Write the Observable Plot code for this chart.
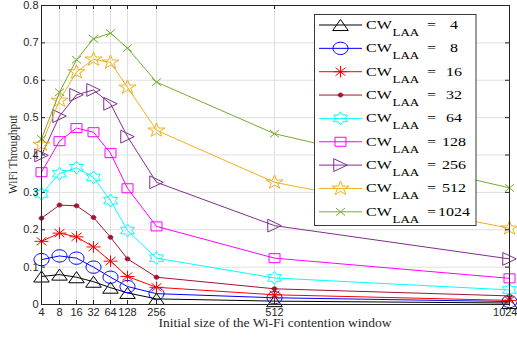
<!DOCTYPE html>
<html><head><meta charset="utf-8">
<script src="https://cdn.jsdelivr.net/npm/d3@7"></script>
<script src="https://cdn.jsdelivr.net/npm/@observablehq/plot@0.6"></script>
<style>html,body{margin:0;padding:0;background:#fff}#chart{width:517px;height:337px}</style>
</head><body><div id="chart"></div>
<script>
// ---- data ----
const cwWifi = [4, 8, 16, 32, 64, 128, 256, 512, 1024];
const cwLAA = [4, 8, 16, 32, 64, 128, 256, 512, 1024];
const thr_4    = [0.075, 0.080, 0.073, 0.061, 0.045, 0.031, 0.015, 0.009, 0.004];
const thr_8    = [0.120, 0.130, 0.124, 0.100, 0.073, 0.048, 0.029, 0.018, 0.008];
const thr_16   = [0.169, 0.191, 0.181, 0.154, 0.116, 0.075, 0.046, 0.026, 0.011];
const thr_32   = [0.231, 0.266, 0.264, 0.233, 0.180, 0.122, 0.073, 0.042, 0.023];
const thr_64   = [0.296, 0.350, 0.366, 0.340, 0.278, 0.198, 0.124, 0.071, 0.039];
const thr_128  = [0.354, 0.437, 0.472, 0.461, 0.405, 0.311, 0.209, 0.124, 0.070];
const thr_256  = [0.399, 0.504, 0.561, 0.574, 0.537, 0.449, 0.327, 0.211, 0.122];
const thr_512  = [0.428, 0.546, 0.622, 0.656, 0.648, 0.581, 0.466, 0.327, 0.204];
const thr_1024 = [0.443, 0.568, 0.655, 0.711, 0.726, 0.686, 0.595, 0.457, 0.312];
const yTicks = [0, 0.1, 0.2, 0.3, 0.4, 0.5, 0.6, 0.7, 0.8];
const xTicks = [4, 8, 16, 32, 64, 128, 256, 512, 1024];
const xLabel = "Initial size of the Wi-Fi contention window";
const yLabel = "WiFi Throughput";
const legendPrefix = "CW";
const legendSub = "LAA";

// ---- symbols (slightly squashed vertically like the original figure) ----
const K = 0.82;
function polySym(pts) {
  return {draw(ctx, size) {
    const r = Math.sqrt(size / Math.PI);
    pts.forEach(([a, b], i) => i ? ctx.lineTo(a * r, b * r * K) : ctx.moveTo(a * r, b * r * K));
    ctx.closePath();
  }};
}
function starPts(n, inner) {
  const p = [];
  for (let i = 0; i < 2 * n; i++) {
    const rr = i % 2 ? inner : 1, a = -Math.PI / 2 + i * Math.PI / n;
    p.push([rr * Math.cos(a), rr * Math.sin(a)]);
  }
  return p;
}
const symEllipse = {draw(ctx, size) {
  const r = Math.sqrt(size / Math.PI), rx = r, ry = r * K, c = 0.5523;
  ctx.moveTo(rx, 0);
  ctx.bezierCurveTo(rx, ry * c, rx * c, ry, 0, ry);
  ctx.bezierCurveTo(-rx * c, ry, -rx, ry * c, -rx, 0);
  ctx.bezierCurveTo(-rx, -ry * c, -rx * c, -ry, 0, -ry);
  ctx.bezierCurveTo(rx * c, -ry, rx, -ry * c, rx, 0);
  ctx.closePath();
}};
const symAst = {draw(ctx, size) {
  const r = Math.sqrt(size / Math.PI), d = r * 0.7071;
  ctx.moveTo(-r, 0); ctx.lineTo(r, 0);
  ctx.moveTo(0, -r * K); ctx.lineTo(0, r * K);
  ctx.moveTo(-d, -d * K); ctx.lineTo(d, d * K);
  ctx.moveTo(-d, d * K); ctx.lineTo(d, -d * K);
}};
const symTimes = {draw(ctx, size) {
  const r = Math.sqrt(size / Math.PI), d = r * 0.7071;
  ctx.moveTo(-d, -d * K); ctx.lineTo(d, d * K);
  ctx.moveTo(-d, d * K); ctx.lineTo(d, -d * K);
}};
const symTriUp = polySym([[0, -0.75], [0.866, 0.75], [-0.866, 0.75]]);
const symTriRight = polySym([[0.75, 0], [-0.75, -0.866], [-0.75, 0.866]]);
const symSquare = polySym([[-1, -1], [1, -1], [1, 1], [-1, 1]]);
const symHex = polySym(starPts(6, 0.577));
const symPent = polySym(starPts(5, 0.382));

const series = [
  {cw: 4,    vals: thr_4,    color: "#000000", sym: symTriUp,    r: 9,   fill: "none"},
  {cw: 8,    vals: thr_8,    color: "#0000ff", sym: symEllipse,  r: 7.5, fill: "none"},
  {cw: 16,   vals: thr_16,   color: "#ff0000", sym: symAst,      r: 7,   fill: "none"},
  {cw: 32,   vals: thr_32,   color: "#a2142f", sym: symEllipse,  r: 2.4, fill: "#a2142f"},
  {cw: 64,   vals: thr_64,   color: "#00ffff", sym: symHex,      r: 8,   fill: "none"},
  {cw: 128,  vals: thr_128,  color: "#ff00ff", sym: symSquare,   r: 5.5, fill: "none"},
  {cw: 256,  vals: thr_256,  color: "#7e2f8e", sym: symTriRight, r: 9,   fill: "none"},
  {cw: 512,  vals: thr_512,  color: "#edb120", sym: symPent,     r: 9,   fill: "none"},
  {cw: 1024, vals: thr_1024, color: "#77ac30", sym: symTimes,    r: 6.5, fill: "none"}
];

const W = 517, H = 337, mL = 41, mR = 8, mT = 5, mB = 33;
const pw = W - mL - mR, ph = H - mT - mB;
const xRange = [41, 59, 76, 93, 110, 127, 156, 274, 509];
const ink = "#262626";

const marks = [
  Plot.gridX(xTicks, {stroke: "#dfdfdf", strokeOpacity: 1}),
  Plot.gridY(yTicks, {stroke: "#dfdfdf", strokeOpacity: 1})
];
for (const s of series) {
  const rows = cwWifi.map((x, i) => ({x, y: s.vals[i]}));
  marks.push(Plot.line(rows, {x: "x", y: "y", stroke: s.color, strokeWidth: 1}));
  marks.push(Plot.dot(rows, {x: "x", y: "y", symbol: s.sym, r: s.r, stroke: s.color, fill: s.fill, strokeWidth: 1}));
}
const lastTick = xTicks[xTicks.length - 1];
marks.push(
  Plot.tickY(yTicks, {y: d => d, insetRight: pw - 4, stroke: ink}),
  Plot.tickY(yTicks, {y: d => d, insetLeft: pw - 4, stroke: ink}),
  Plot.tickX(xTicks, {x: d => d, insetTop: ph - 4, stroke: ink}),
  Plot.tickX(xTicks, {x: d => d, insetBottom: ph - 4, stroke: ink}),
  Plot.axisX(xTicks.slice(0, -1), {tickSize: 0, tickPadding: 4, tickFormat: d => String(d), label: null}),
  Plot.axisX([lastTick], {tickSize: 0, tickPadding: 4, tickFormat: d => String(d), textAnchor: "end", dx: 8, label: null}),
  Plot.axisY(yTicks, {tickSize: 0, tickPadding: 3, tickFormat: d => d === 0 ? "0" : d.toFixed(1), label: null}),
  Plot.frame({stroke: ink})
);

const svg = Plot.plot({
  width: W, height: H,
  marginLeft: mL, marginRight: mR, marginTop: mT, marginBottom: mB,
  style: {fontFamily: "'Liberation Sans', Arial, sans-serif", fontSize: "11px", color: ink, background: "#fff"},
  x: {type: "linear", domain: xTicks, range: xRange},
  y: {type: "linear", domain: [0, 0.8]},
  marks
});
document.getElementById("chart").appendChild(svg);

// ---- axis titles & legend ----
const g = d3.select(svg).append("g").attr("font-family", "'Liberation Serif', 'Times New Roman', serif").attr("fill", ink);
g.append("text").attr("transform", `translate(${mL + pw / 2},327) scale(1,0.86)`)
  .attr("text-anchor", "middle").attr("font-size", 13.5).text(xLabel);
g.append("text").attr("transform", `translate(17,${mT + ph / 2}) rotate(-90) scale(0.84,1)`)
  .attr("text-anchor", "middle").attr("font-size", 13.5).text(yLabel);

const lg = g.append("g");
lg.append("rect").attr("x", 314.5).attr("y", 14.5).attr("width", 161.5).attr("height", 211)
  .attr("fill", "#fff").attr("stroke", ink).attr("stroke-width", 0.9);
series.forEach((s, i) => {
  const y = 25 + i * 23.35;
  lg.append("line").attr("x1", 319).attr("x2", 362).attr("y1", y).attr("y2", y)
    .attr("stroke", s.color).attr("stroke-width", 1);
  lg.append("path").attr("transform", `translate(340.5,${y})`)
    .attr("d", d3.symbol(s.sym, s.r * s.r * Math.PI)())
    .attr("stroke", s.color).attr("fill", s.fill).attr("stroke-width", 1);
  const t = (x, yy, size, txt, anchor) => lg.append("text")
    .attr("transform", `translate(${x},${yy}) scale(1,0.8)`)
    .attr("font-size", size).attr("text-anchor", anchor || "start").attr("fill", "#000").text(txt);
  t(366, y + 4, 16, legendPrefix);
  t(392.5, y + 11, 13, legendSub);
  t(427, y + 4, 16, "=");
  t(454, y + 4, 16, String(cwLAA[i]), "middle");
});
</script>
</body></html>
